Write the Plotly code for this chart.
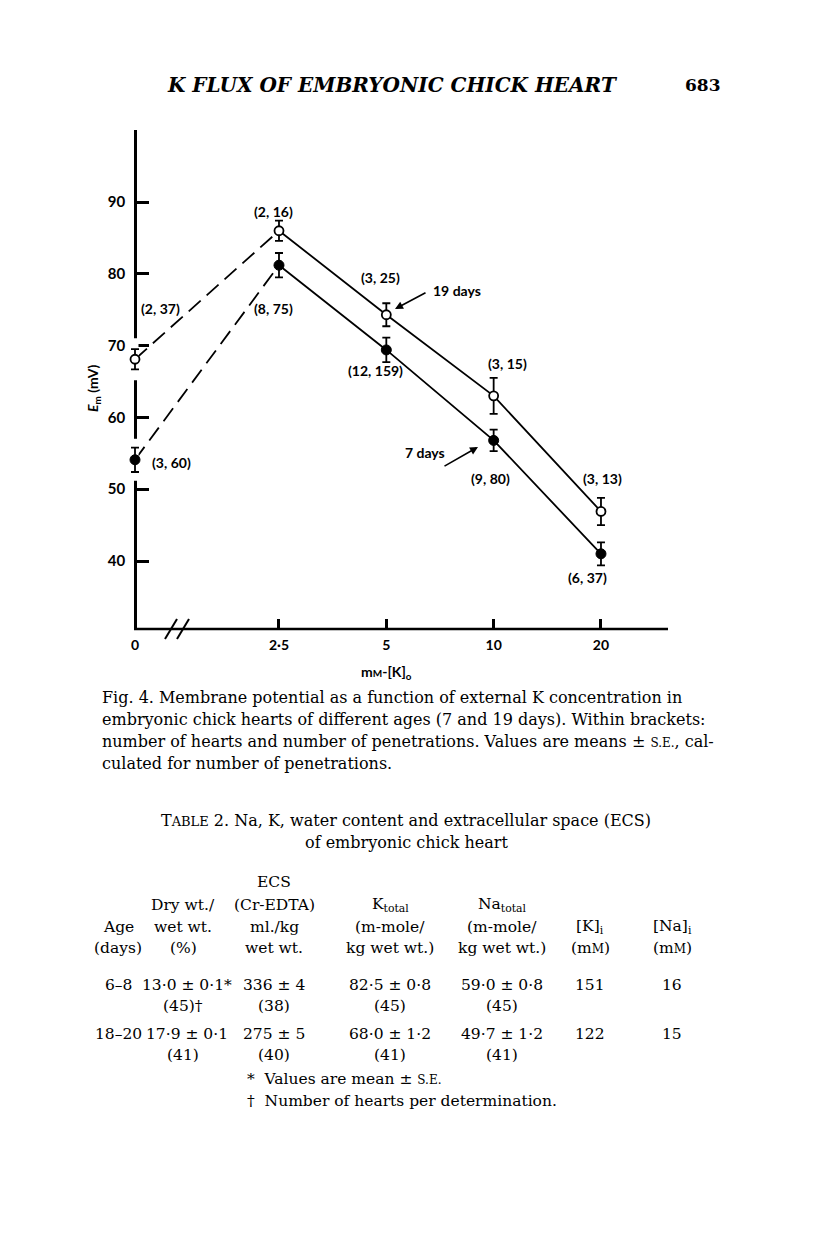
import plotly.graph_objects as go

# ---------------- data ----------------
conc_mM = [0, 2.5, 5, 10, 20]
conc_labels = ["0", "2·5", "5", "10", "20"]

em_19d = [68.1, 86.0, 74.3, 63.0, 46.9]
se_19d = [1.4, 1.4, 1.6, 2.5, 1.9]
n_19d = ["(2, 37)", "(2, 16)", "(3, 25)", "(3, 15)", "(3, 13)"]

em_7d = [54.1, 81.2, 69.4, 56.8, 41.0]
se_7d = [1.7, 1.7, 1.7, 1.5, 1.6]
n_7d = ["(3, 60)", "(8, 75)", "(12, 159)", "(9, 80)", "(6, 37)"]

y_ticks = [40, 50, 60, 70, 80, 90]

# table data
tbl_age = ["6–8", "18–20"]
tbl_dry = ["13·0 ± 0·1*", "17·9 ± 0·1"]
tbl_dry_n = ["(45)†", "(41)"]
tbl_ecs = ["336 ± 4", "275 ± 5"]
tbl_ecs_n = ["(38)", "(40)"]
tbl_k = ["82·5 ± 0·8", "68·0 ± 1·2"]
tbl_k_n = ["(45)", "(41)"]
tbl_na = ["59·0 ± 0·8", "49·7 ± 1·2"]
tbl_na_n = ["(45)", "(41)"]
tbl_ki = ["151", "122"]
tbl_nai = ["16", "15"]

# ---------------- layout geometry (reference pixel frame) ----------------
W, H = 816, 1253
BODY = 8                      # default page margin around the plot div
AX_L = 135                    # y-axis line position
PL, PR, PT, PB = 115, 668, 130, 629   # plot area (extends a bit left of the y axis)
PX_PER_DEC = 356.6
XLOG_AXIS = -0.0059           # log10 position of the y-axis / "0" column
XLOG_MIN = XLOG_AXIS - (AX_L - PL) / PX_PER_DEC
XLOG_MAX = 1.489
Y_MIN, Y_MAX = 30.53, 100.03
ZERO_POS = 10 ** XLOG_AXIS

x_plot = [ZERO_POS if c == 0 else c for c in conc_mM]


def px(x):
    return (x - PL) / (PR - PL)


def py(y):
    return (PB - y) / (PB - PT)


CHART_FONT = dict(family="Lato", size=14, color="black", weight="bold")
SERIF = "DejaVu Serif"
TXT = dict(family=SERIF, size=16, color="black")
TBL = dict(family=SERIF, size=15.5, color="black")

ann = []


def A(text, x, y, font, xanchor="center", **kw):
    ann.append(dict(text=text, x=px(x), y=py(y), xref="paper", yref="paper",
                    xanchor=xanchor, yanchor="middle", showarrow=False, font=font, **kw))


fig = go.Figure()

# dashed segments (0 -> 2.5)
for em in (em_19d, em_7d):
    fig.add_trace(go.Scatter(x=x_plot[:2], y=em[:2], mode="lines",
                             line=dict(color="black", width=1.8, dash="16px,8px"),
                             hoverinfo="skip", showlegend=False))
# solid segments (2.5 -> 20)
for em in (em_19d, em_7d):
    fig.add_trace(go.Scatter(x=x_plot[1:], y=em[1:], mode="lines",
                             line=dict(color="black", width=1.8),
                             hoverinfo="skip", showlegend=False))
# white halo breaking the y-axis line at the 0 mM points
fig.add_trace(go.Scatter(x=[x_plot[0], x_plot[0]], y=[em_19d[0], em_7d[0]], mode="markers",
                         marker=dict(symbol="line-ns", size=30, line=dict(color="white", width=7)),
                         hoverinfo="skip", showlegend=False))
# points with error bars
fig.add_trace(go.Scatter(x=x_plot, y=em_19d, mode="markers", name="19 days",
                         marker=dict(symbol="circle", size=9, color="white",
                                     line=dict(color="black", width=1.8)),
                         error_y=dict(type="data", array=se_19d, color="black",
                                      thickness=1.8, width=4),
                         cliponaxis=False, showlegend=False))
fig.add_trace(go.Scatter(x=x_plot, y=em_7d, mode="markers", name="7 days",
                         marker=dict(symbol="circle", size=10, color="black",
                                     line=dict(color="black", width=1)),
                         error_y=dict(type="data", array=se_7d, color="black",
                                      thickness=1.8, width=4),
                         cliponaxis=False, showlegend=False))

# n labels (hearts, penetrations)
lab19_pos = [(160, 308), (273, 211), (380, 277), (507, 363), (602, 478)]
lab7_pos = [(171, 462), (273, 308), (375, 370), (490, 478), (587, 577)]
for txt, (x, y) in zip(n_19d, lab19_pos):
    A(txt, x, y, CHART_FONT)
for txt, (x, y) in zip(n_7d, lab7_pos):
    A(txt, x, y, CHART_FONT)

# series labels with arrows
A("19 days", 457, 290, CHART_FONT)
ann.append(dict(text="", x=px(395), y=py(309), xref="paper", yref="paper",
                ax=427 - 395, ay=292 - 309, showarrow=True, arrowhead=2,
                arrowsize=1, arrowwidth=1.6, arrowcolor="black"))
A("7 days", 425, 452, CHART_FONT)
ann.append(dict(text="", x=px(478), y=py(447), xref="paper", yref="paper",
                ax=443 - 478, ay=467 - 447, showarrow=True, arrowhead=2,
                arrowsize=1, arrowwidth=1.6, arrowcolor="black"))

# axis titles
A("<i>E</i><sub>m</sub> (mV)", 93, 388, CHART_FONT, textangle=-90)
A("m<span style='font-size:10px'>M</span>-[K]<sub>o</sub>", 386, 672, CHART_FONT)

# page header
A("<i>K FLUX OF EMBRYONIC CHICK HEART</i>", 392, 85,
  dict(family=SERIF, size=20, color="black", weight="bold"))
A("683", 703, 85, dict(family=SERIF, size=17, color="black", weight="bold"))

# caption
caption = [
    "Fig. 4. Membrane potential as a function of external K concentration in",
    "embryonic chick hearts of different ages (7 and 19 days). Within brackets:",
    "number of hearts and number of penetrations. Values are means ± <span style='font-size:12px'>S.E.</span>, cal-",
    "culated for number of penetrations.",
]
for i, line in enumerate(caption):
    A(line, 100, 697 + 22 * i, TXT, xanchor="left")

# table title
A("T<span style='font-size:13px'>ABLE</span> 2. Na, K, water content and extracellular space (ECS)",
  406, 820, TXT)
A("of embryonic chick heart", 406, 842, TXT)

col_x = [118, 183, 274, 390, 502, 590, 672]
header_rows = [
    ["", "", "ECS", "", "", "", ""],
    ["", "Dry wt./", "(Cr-EDTA)", "K<sub>total</sub>", "Na<sub>total</sub>", "", ""],
    ["Age", "wet wt.", "ml./kg", "(m-mole/", "(m-mole/", "[K]<sub>i</sub>", "[Na]<sub>i</sub>"],
    ["(days)", "(%)", "wet wt.", "kg wet wt.)", "kg wet wt.)",
     "(m<span style='font-size:12px'>M</span>)", "(m<span style='font-size:12px'>M</span>)"],
]
header_y = [882, 905, 927, 948]
for row, yy in zip(header_rows, header_y):
    for txt, xx in zip(row, col_x):
        if txt:
            A(txt, xx, yy, TBL)

row_y = [985, 1034]
for i in range(2):
    main = [tbl_age[i], tbl_dry[i], tbl_ecs[i], tbl_k[i], tbl_na[i], tbl_ki[i], tbl_nai[i]]
    sub = ["", tbl_dry_n[i], tbl_ecs_n[i], tbl_k_n[i], tbl_na_n[i], "", ""]
    for j, (txt, xx) in enumerate(zip(main, col_x)):
        A(txt, xx + (4 if j == 1 else 0), row_y[i], TBL)
    for txt, xx in zip(sub, col_x):
        if txt:
            A(txt, xx, row_y[i] + 21, TBL)

A("*  Values are mean ± <span style='font-size:12px'>S.E.</span>", 245, 1079, TBL, xanchor="left")
A("†  Number of hearts per determination.", 245, 1101, TBL, xanchor="left")

# x-axis line (starts at the y axis) and axis break marks
shapes = [
    dict(type="line", xref="paper", yref="paper", x0=px(AX_L - 1), y0=0, x1=1, y1=0,
         line=dict(color="black", width=2.6), layer="below"),
    dict(type="line", xref="paper", yref="paper", x0=px(165), y0=py(639), x1=px(177), y1=py(619),
         line=dict(color="black", width=2)),
    dict(type="line", xref="paper", yref="paper", x0=px(177), y0=py(639), x1=px(189), y1=py(619),
         line=dict(color="black", width=2)),
]

FW, FH = W - 2 * BODY, H - 2 * BODY
fig.update_layout(
    width=FW, height=FH,
    margin=dict(l=PL - BODY, r=FW - (PR - BODY), t=PT - BODY, b=FH - (PB - BODY),
                autoexpand=False),
    paper_bgcolor="white", plot_bgcolor="white",
    showlegend=False,
    annotations=ann, shapes=shapes,
    xaxis=dict(type="log", range=[XLOG_MIN, XLOG_MAX], tickvals=x_plot, ticktext=conc_labels,
               ticks="inside", ticklen=10, tickwidth=2.5, tickcolor="black",
               showline=False, showgrid=False, zeroline=False, layer="below traces",
               ticklabelstandoff=6,
               tickfont=dict(family="Lato", size=14, color="black", weight="bold")),
    yaxis=dict(range=[Y_MIN, Y_MAX], tickvals=y_ticks, ticks="inside", ticklen=12,
               tickwidth=2.5, tickcolor="black", showline=True, linecolor="black",
               linewidth=2.6, showgrid=False, zeroline=False, layer="below traces",
               anchor="free", position=px(AX_L), ticklabelstandoff=6,
               tickfont=dict(family="Lato", size=15, color="black", weight="bold")),
)

fig.write_html("out.html")
